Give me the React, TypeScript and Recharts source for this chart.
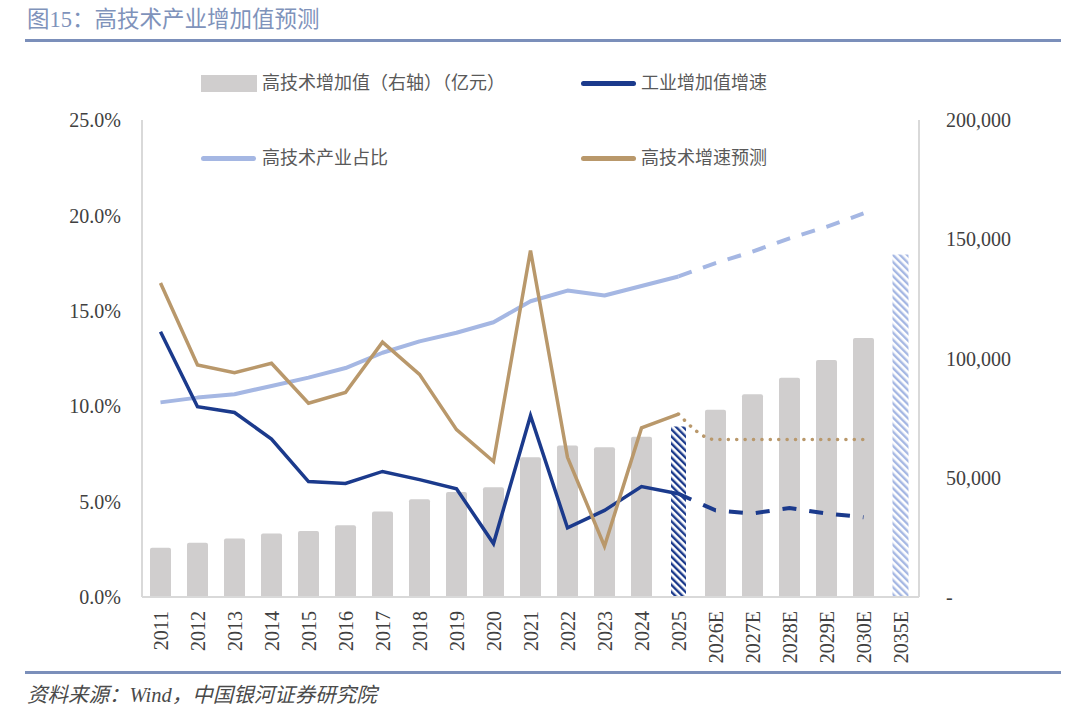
import React from 'react';
import { Bar, ComposedChart, Line, Rectangle, XAxis, YAxis } from 'recharts';

// categories on the x axis
const years = [
	'2011', '2012', '2013', '2014', '2015', '2016', '2017', '2018', '2019', '2020', '2021',
	'2022', '2023', '2024', '2025', '2026E', '2027E', '2028E', '2029E', '2030E', '2035E',
];

// 高技术增加值（亿元），右轴
const hiTechValue = [
	20700, 22700, 24500, 26600, 27700, 30100, 35900, 41000, 44000, 46000, 58600,
	63500, 62800, 67200, 71500, 78500, 85000, 91900, 99400, 108600, 143600,
];

// 工业增加值增速 (%)
const industryGrowth = [
	13.9, 9.97, 9.67, 8.28, 6.05, 5.95, 6.58, 6.15, 5.67, 2.8, 9.5,
	3.62, 4.54, 5.79, 5.41, null, null, null, null, null, null,
];
const industryGrowthForecast = [
	null, null, null, null, null, null, null, null, null, null, null,
	null, null, null, 5.41, 4.54, 4.38, 4.66, 4.38, 4.18, null,
];

// 高技术产业占比 (%)
const hiTechShare = [
	10.2, 10.45, 10.63, 11.06, 11.5, 12.0, 12.8, 13.4, 13.85, 14.4, 15.5,
	16.06, 15.8, 16.3, 16.8, null, null, null, null, null, null,
];
const hiTechShareForecast = [
	null, null, null, null, null, null, null, null, null, null, null,
	null, null, null, 16.8, 17.5, 18.1, 18.8, 19.4, 20.1, null,
];

// 高技术增速预测 (%)
const hiTechGrowth = [
	16.46, 12.16, 11.76, 12.25, 10.16, 10.72, 13.36, 11.67, 8.77, 7.1, 18.16,
	7.32, 2.66, 8.86, 9.59, null, null, null, null, null, null,
];
const hiTechGrowthForecast = [
	null, null, null, null, null, null, null, null, null, null, null,
	null, null, null, 9.59, 8.25, 8.25, 8.25, 8.25, 8.25, null,
];

const leftTicks = [0, 5, 10, 15, 20, 25];
const rightTicks = [0, 50000, 100000, 150000, 200000];

const data = years.map((year, i) => ({
	year,
	hiTechValue: hiTechValue[i],
	industryGrowth: industryGrowth[i],
	industryGrowthForecast: industryGrowthForecast[i],
	hiTechShare: hiTechShare[i],
	hiTechShareForecast: hiTechShareForecast[i],
	hiTechGrowth: hiTechGrowth[i],
	hiTechGrowthForecast: hiTechGrowthForecast[i],
}));

const FONT = '"Liberation Serif", "Noto Sans CJK SC", serif';
const GRAY_BAR = '#d0cece';
const NAVY = '#1b3a8c';
const LIGHT_BLUE = '#a5b7e3';
const TAN = '#b9986b';
const AXIS = '#d9d9d9';

const BarShape = (props: any) => {
	const { x, y, width, height, payload } = props;
	if (payload.year === '2025' || payload.year === '2035E') {
		const w = payload.year === '2025' ? 15 : 16;
		const fill = payload.year === '2025' ? 'url(#hatchDark)' : 'url(#hatchLight)';
		return <rect x={x + (width - w) / 2} y={y} width={w} height={height} fill={fill} />;
	}
	return <Rectangle x={x} y={y} width={width} height={height} radius={[2, 2, 0, 0]} fill={GRAY_BAR} />;
};

const YearTick = ({ x, y, payload }: any) => (
	<text
		x={x}
		y={y + 6}
		transform={`rotate(-90, ${x}, ${y + 6})`}
		textAnchor='end'
		dominantBaseline='central'
		fontSize={20}
		fontFamily={FONT}
		fill='#404040'
	>
		{payload.value}
	</text>
);

const legendText: React.CSSProperties = {
	position: 'absolute',
	fontSize: 18,
	lineHeight: '20px',
	color: '#595959',
	fontFamily: FONT,
	whiteSpace: 'nowrap',
};

const legendLine = (left: number, top: number, color: string): React.CSSProperties => ({
	position: 'absolute',
	left,
	top: top - 2.5,
	width: 55,
	height: 5,
	borderRadius: 3,
	background: color,
});

const App = () => {
	return (
		<div style={{ position: 'absolute', left: 0, top: 0, width: 1080, height: 710, background: '#fff', fontFamily: FONT }}>
			<div style={{ position: 'absolute', left: 27, top: 6, fontSize: 22.5, lineHeight: '28px', color: '#7f93bb', whiteSpace: 'nowrap' }}>
				图15：高技术产业增加值预测
			</div>
			<div style={{ position: 'absolute', left: 25, top: 39, width: 1036, height: 3, background: '#7b8fba' }} />

			<ComposedChart width={1080} height={710} data={data} margin={{ top: 120, right: 0, bottom: 0, left: 0 }}>
				<defs>
					<pattern id='hatchDark' patternUnits='userSpaceOnUse' width='5' height='5' patternTransform='rotate(-45)'>
						<rect width='5' height='5' fill='#ffffff' />
						<rect width='2.4' height='5' fill={NAVY} />
					</pattern>
					<pattern id='hatchLight' patternUnits='userSpaceOnUse' width='5' height='5' patternTransform='rotate(-45)'>
						<rect width='5' height='5' fill='#ffffff' />
						<rect width='2.4' height='5' fill={LIGHT_BLUE} />
					</pattern>
				</defs>
				<XAxis
					dataKey='year'
					height={113}
					interval={0}
					tickLine={false}
					axisLine={{ stroke: AXIS, strokeWidth: 2 }}
					tick={<YearTick />}
				/>
				<YAxis
					yAxisId='left'
					orientation='left'
					width={142}
					domain={[0, 25]}
					ticks={leftTicks}
					tickLine={false}
					tickSize={6}
					tickMargin={15}
					axisLine={{ stroke: AXIS, strokeWidth: 2 }}
					tick={{ fontSize: 20, fill: '#404040', fontFamily: FONT }}
					tickFormatter={(v) => `${v.toFixed(1)}%`}
				/>
				<YAxis
					yAxisId='right'
					orientation='right'
					width={161}
					domain={[0, 200000]}
					ticks={rightTicks}
					tickLine={false}
					tickSize={6}
					tickMargin={21}
					axisLine={{ stroke: AXIS, strokeWidth: 2 }}
					tick={{ fontSize: 20, fill: '#404040', fontFamily: FONT }}
					tickFormatter={(v) => (v === 0 ? '-' : v.toLocaleString('en-US'))}
				/>
				<Bar yAxisId='right' dataKey='hiTechValue' barSize={21} shape={BarShape} isAnimationActive={false} />
				<Line yAxisId='left' dataKey='hiTechShare' type='linear' stroke={LIGHT_BLUE} strokeWidth={4} strokeLinejoin='round' dot={false} activeDot={false} isAnimationActive={false} />
				<Line yAxisId='left' dataKey='hiTechShareForecast' type='linear' stroke={LIGHT_BLUE} strokeWidth={4} strokeDasharray='14 12' dot={false} activeDot={false} isAnimationActive={false} />
				<Line yAxisId='left' dataKey='industryGrowth' type='linear' stroke={NAVY} strokeWidth={3.5} dot={false} activeDot={false} isAnimationActive={false} />
				<Line yAxisId='left' dataKey='industryGrowthForecast' type='linear' stroke={NAVY} strokeWidth={4} strokeDasharray='14 13' dot={false} activeDot={false} isAnimationActive={false} />
				<Line yAxisId='left' dataKey='hiTechGrowth' type='linear' stroke={TAN} strokeWidth={3.5} dot={false} activeDot={false} isAnimationActive={false} />
				<Line yAxisId='left' dataKey='hiTechGrowthForecast' type='monotone' stroke={TAN} strokeWidth={3.5} strokeDasharray='0.1 8.3' strokeLinecap='round' dot={false} activeDot={false} isAnimationActive={false} />
			</ComposedChart>

			<div style={{ position: 'absolute', left: 201, top: 75, width: 56, height: 17, background: GRAY_BAR }} />
			<div style={{ ...legendText, left: 262, top: 73 }}>高技术增加值（右轴）（亿元）</div>
			<div style={legendLine(581, 83, NAVY)} />
			<div style={{ ...legendText, left: 641, top: 73 }}>工业增加值增速</div>
			<div style={legendLine(201, 158, LIGHT_BLUE)} />
			<div style={{ ...legendText, left: 262, top: 148 }}>高技术产业占比</div>
			<div style={legendLine(581, 158, TAN)} />
			<div style={{ ...legendText, left: 641, top: 148 }}>高技术增速预测</div>

			<div style={{ position: 'absolute', left: 25, top: 671, width: 1036, height: 3, background: '#7b8fba' }} />
			<div style={{ position: 'absolute', left: 27, top: 681, fontSize: 20.5, lineHeight: '28px', fontStyle: 'italic', color: '#4a4a4a', whiteSpace: 'nowrap' }}>
				资料来源：Wind，中国银河证券研究院
			</div>
		</div>
	);
};

export default App;
